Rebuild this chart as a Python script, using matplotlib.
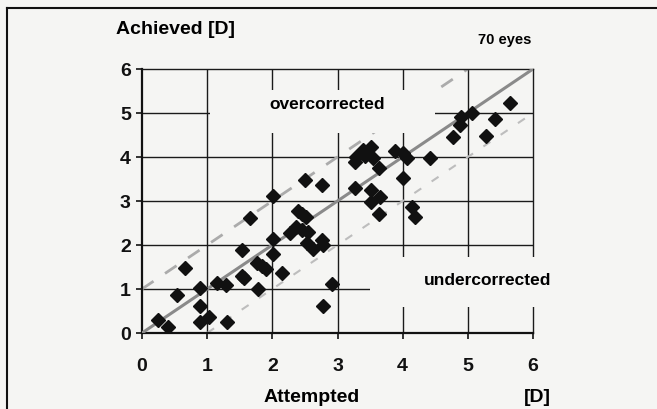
import matplotlib
matplotlib.use("Agg")
import matplotlib.pyplot as plt
from matplotlib.patches import Rectangle
from matplotlib.lines import Line2D

plt.rcParams['font.family'] = ['Liberation Sans', 'DejaVu Sans']

# Data (attempted vs achieved correction, dioptres)
attempted = [0.25, 0.40, 0.53, 0.66, 0.89, 0.89, 0.89, 1.03, 1.15, 1.29,
             1.30, 1.53, 1.53, 1.57, 1.66, 1.76, 1.84, 1.90, 1.78, 2.01,
             2.01, 2.15, 2.27, 2.37, 2.45, 2.55, 2.40, 2.45, 2.52, 2.53,
             2.63, 2.76, 2.78, 2.78, 2.91, 2.01, 2.50, 2.76, 3.27, 3.52,
             3.65, 3.52, 3.63, 4.15, 4.19, 3.29, 3.39, 3.52, 3.42, 3.55,
             3.27, 3.64, 3.88, 4.01, 4.06, 4.42, 4.01, 4.77, 4.88, 4.90,
             5.06, 5.28, 5.41, 5.65]
achieved = [0.30, 0.14, 0.86, 1.47, 1.02, 0.61, 0.26, 0.37, 1.14, 1.09,
            0.26, 1.89, 1.30, 1.24, 2.61, 1.60, 1.52, 1.46, 0.99, 1.79,
            2.14, 1.36, 2.27, 2.42, 2.34, 2.30, 2.78, 2.70, 2.64, 2.04,
            1.92, 2.11, 2.00, 0.62, 1.12, 3.11, 3.48, 3.36, 3.29, 3.25,
            3.10, 2.98, 2.70, 2.87, 2.64, 4.00, 4.16, 4.23, 4.02, 3.97,
            3.89, 3.74, 4.14, 4.08, 3.97, 3.97, 3.52, 4.46, 4.73, 4.92,
            4.99, 4.48, 4.86, 5.23]

ticks = [0, 1, 2, 3, 4, 5, 6]
ideal_x = [0, 6]
ideal_y = [0, 6]
upper_x = [0, 5]
upper_y = [1, 6]
lower_x = [1, 6]
lower_y = [0, 5]

bg = '#f5f5f3'
fig = plt.figure(figsize=(6.57, 4.09), dpi=100, facecolor=bg)
ax = fig.add_axes([142/657, 1 - 333/409, 391/657, 264/409])
ax.set_facecolor('none')

ax.set_xlim(0, 6)
ax.set_ylim(0, 6)
ax.set_xticks(ticks)
ax.set_yticks(ticks)
ax.set_xticklabels([str(t) for t in ticks], fontsize=14, fontweight='bold')
ax.set_yticklabels([str(t) for t in ticks], fontsize=14, fontweight='bold')
ax.tick_params(axis='x', length=4, width=1.2, direction='out', pad=14, colors='#111111')
ax.tick_params(axis='y', length=4, width=1.2, direction='out', pad=4, colors='#111111')

for t in ticks[1:-1]:
    ax.axhline(t, color='#1a1a1a', lw=1.0, zorder=1)
    ax.axvline(t, color='#1a1a1a', lw=1.0, zorder=1)
for side in ['top', 'right']:
    ax.spines[side].set_linewidth(1.0)
    ax.spines[side].set_color('#1a1a1a')
for side in ['bottom', 'left']:
    ax.spines[side].set_linewidth(1.6)
    ax.spines[side].set_color('#111111')

ax.plot(upper_x, upper_y, color='#ababab', lw=2.0, dashes=(5, 5), zorder=2)
ax.plot(lower_x, lower_y, color='#bdbdbd', lw=1.5, dashes=(4, 6), zorder=2)
ax.plot(ideal_x, ideal_y, color='#8a8a8a', lw=2.2, zorder=4)

# label boxes that hide the grid
ax.add_patch(Rectangle((1.04, 4.55), 3.45, 0.97, facecolor=bg, edgecolor='none', zorder=3))
ax.add_patch(Rectangle((3.5, 0.59), 2.95, 1.14, facecolor=bg, edgecolor='none', zorder=5,
                       clip_on=False))
ax.text(2.84, 5.2, 'overcorrected', fontsize=12.5, fontweight='bold', ha='center', va='center', zorder=6)
ax.text(5.3, 1.2, 'undercorrected', fontsize=12.5, fontweight='bold', ha='center', va='center', zorder=6)

ax.plot(attempted, achieved, linestyle='none', marker='D', markersize=7,
        color='#111111', zorder=5)

fig.text(175/657, 1 - 29/409, 'Achieved [D]', fontsize=14, fontweight='bold', ha='center', va='center')
fig.text(505/657, 1 - 40/409, '70 eyes', fontsize=10.5, fontweight='bold', ha='center', va='center')
fig.text(312/657, 1 - 397/409, 'Attempted', fontsize=14, fontweight='bold', ha='center', va='center')
fig.text(537/657, 1 - 397/409, '[D]', fontsize=14, fontweight='bold', ha='center', va='center')

# scan frame
fig.add_artist(Line2D([7/657, 1], [1 - 8/409, 1 - 8/409], color='#111111', lw=1.5))
fig.add_artist(Line2D([7/657, 7/657], [0, 1 - 8/409], color='#111111', lw=1.5))

fig.savefig('out.png', dpi=100, facecolor=bg)
